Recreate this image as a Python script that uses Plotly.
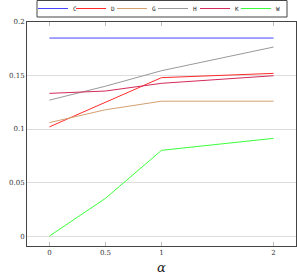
import plotly.graph_objects as go

alpha = [0, 0.5, 1, 2]
names = ["C", "D", "G", "H", "K", "W"]
C = [0.185, 0.185, 0.185, 0.185]
D = [0.102, 0.125, 0.148, 0.152]
G = [0.106, 0.118, 0.126, 0.126]
H = [0.127, 0.140, 0.1545, 0.1766]
K = [0.1333, 0.1355, 0.1427, 0.1498]
W = [0.0, 0.0352, 0.0801, 0.0913]
series = [C, D, G, H, K, W]
colors = ["#4646ff", "#ff2a2a", "#d4a070", "#999999", "#d42a5a", "#3cff3c"]

W_PX, H_PX = 297, 276
ML, MR, MT, MB = 27, 1, 22, 30
# legend entry left edges (pixels) to mimic the single-row legend box
leg_left_px = [33, 71, 112, 153, 195, 236]

fig = go.Figure()
legend_layouts = {}
for i, (n, s, c) in enumerate(zip(names, series, colors)):
    key = "legend" if i == 0 else f"legend{i+1}"
    fig.add_trace(go.Scatter(x=alpha, y=s, mode="lines", name=n,
                             line=dict(color=c, width=1), legend=key))
    legend_layouts[key] = dict(
        x=leg_left_px[i] / W_PX, xref="container", xanchor="left",
        y=1 - 8.5 / H_PX, yref="container", yanchor="middle",
        font=dict(family="DejaVu Sans Mono", size=6, color="#222"),
        bgcolor="rgba(0,0,0,0)", borderwidth=0, itemwidth=30,
    )

tickfont = dict(family="DejaVu Serif", size=7, color="#333333")
plot_h = H_PX - MT - MB
fig.update_layout(
    width=W_PX, height=H_PX,
    margin=dict(l=ML, r=MR, t=MT, b=MB, autoexpand=False),
    plot_bgcolor="white", paper_bgcolor="white",
    showlegend=True,
    **legend_layouts,
    shapes=[dict(type="rect", xref="paper", yref="paper",
                 x0=(37 - ML) / (W_PX - ML - MR), x1=(287 - ML) / (W_PX - ML - MR),
                 y0=(H_PX - MB - 17) / plot_h, y1=(H_PX - MB - 0.5) / plot_h,
                 line=dict(color="#444", width=1), fillcolor="rgba(0,0,0,0)", layer="below")],
    xaxis=dict(range=[-0.2, 2.2], tickvals=[0, 0.5, 1, 2], ticktext=["0", "0.5", "1", "2"],
               showgrid=False, zeroline=False, showline=True, linecolor="#444", linewidth=1,
               mirror="ticks", ticks="inside", ticklen=4, tickcolor="#bbbbbb",
               tickfont=tickfont,
               title=dict(text="<i>α</i>", font=dict(family="DejaVu Serif", size=13, color="#222"), standoff=6)),
    yaxis=dict(range=[-0.0093, 0.2], tickvals=[0, 0.05, 0.1, 0.15, 0.2],
               ticktext=["0", "0.05", "0.1", "0.15", "0.2"],
               showgrid=True, gridcolor="#dddddd", gridwidth=1, zeroline=False,
               showline=True, linecolor="#444", linewidth=1, mirror=True,
               ticks="", tickfont=tickfont),
)
fig.write_html("out.html", config={"displayModeBar": False},
               post_script="document.body.style.margin='0px';document.body.style.overflow='hidden';")
